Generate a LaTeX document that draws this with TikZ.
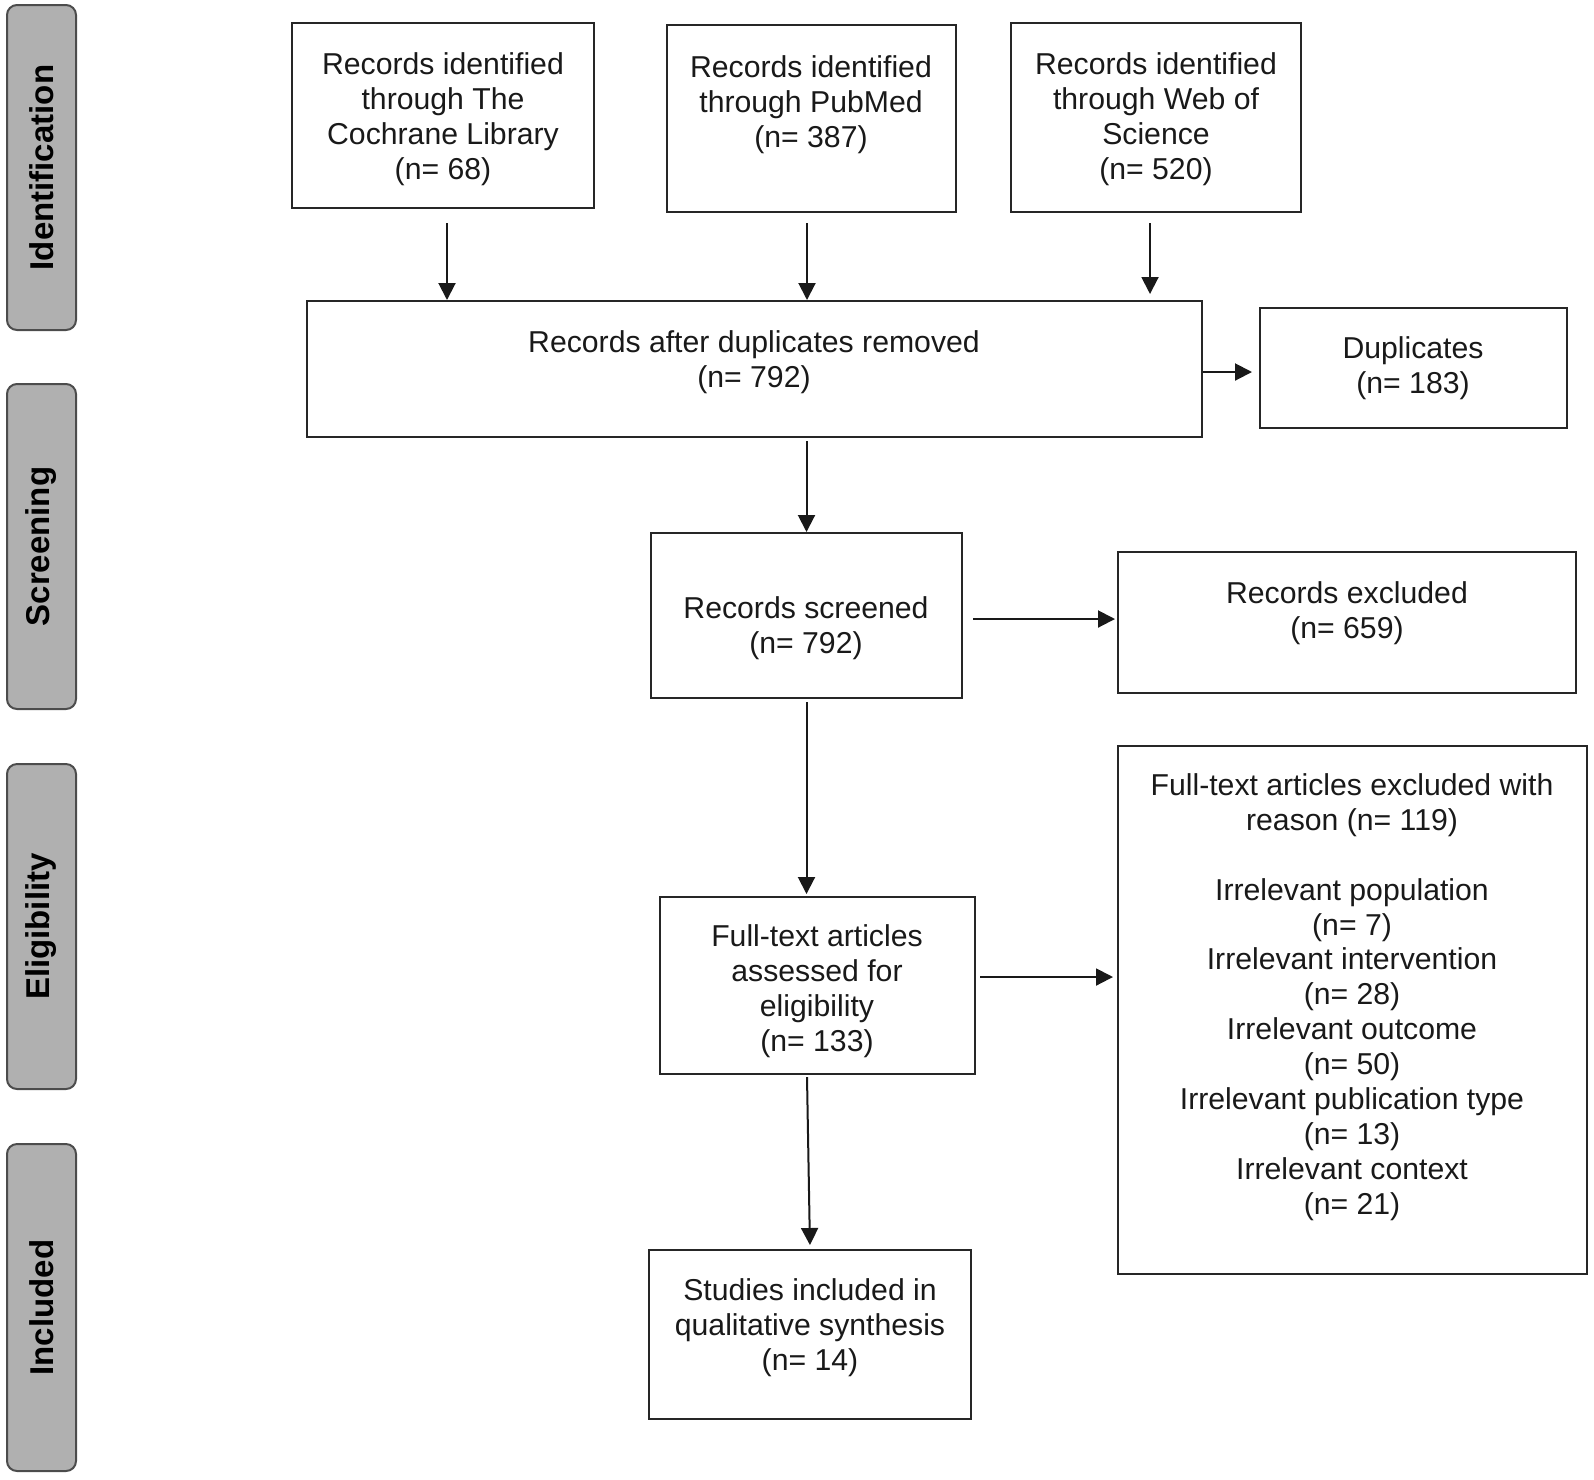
\documentclass[tikz,border=0pt]{standalone}
\usepackage{fontspec}
\setmainfont{Liberation Sans}
\usetikzlibrary{fit,arrows.meta,calc}
\begin{document}
\begin{tikzpicture}[x=0.5pt,y=-0.5pt,
  box/.style={draw=black!85,line width=1pt,inner sep=0pt,rectangle},
  bar/.style={draw=black!70,fill=black!31,line width=1pt,inner sep=0pt,rounded corners=5pt},
  txt/.style={align=center,font=\fontsize{15.1}{17.45}\selectfont,text=black!90,inner sep=0pt},
  side/.style={rotate=90,font=\fontsize{16.5}{18}\selectfont\bfseries,text=black,inner sep=0pt},
  arr/.style={line width=1pt,draw=black!90,-{Triangle[length=8.5pt,width=8.5pt]}}]
\useasboundingbox (0,0) rectangle (1594,1479);
% side bars
\node[bar,fit={(7,5) (76,330)}] (b1) {};
\node[bar,fit={(7,384) (76,709)}] (b2) {};
\node[bar,fit={(7,764) (76,1089)}] (b3) {};
\node[bar,fit={(7,1144) (76,1471)}] (b4) {};
\node[side] (l1) at (b1) {Identification};
\node[side] (l2) at (b2) {Screening};
\node[side] (l3) at (b3) {Eligibility};
\node[side] (l4) at (b4) {Included};
% boxes
\node[box,fit={(292,23) (594,208)}] (c1) {};
\node[box,fit={(667,25) (956,212)}] (c2) {};
\node[box,fit={(1011,23) (1301,212)}] (c3) {};
\node[box,fit={(307,301) (1202,437)}] (dd) {};
\node[box,fit={(1260,308) (1567,428)}] (dp) {};
\node[box,fit={(651,533) (962,698)}] (sc) {};
\node[box,fit={(1118,552) (1576,693)}] (ex) {};
\node[box,fit={(660,897) (975,1074)}] (ft) {};
\node[box,fit={(1118,746) (1587,1274)}] (rs) {};
\node[box,fit={(649,1250) (971,1419)}] (st) {};
% texts
\node[txt] (t1) at (443,119) {Records identified\\through The\\Cochrane Library\\(n= 68)};
\node[txt] (t2) at (811,105) {Records identified\\through PubMed\\(n= 387)};
\node[txt] (t3) at (1156,119) {Records identified\\through Web of\\Science\\(n= 520)};
\node[txt] (t4) at (754,362) {Records after duplicates removed\\(n= 792)};
\node[txt] (t5) at (1413,368) {Duplicates\\(n= 183)};
\node[txt] (t6) at (806,628) {Records screened\\(n= 792)};
\node[txt] (t7) at (1347,613) {Records excluded\\(n= 659)};
\node[txt] (t8) at (817,991) {Full-text articles\\assessed for\\eligibility\\(n= 133)};
\node[txt] (t9) at (1352,997) {Full-text articles excluded with\\reason (n= 119)\\[17.45pt]Irrelevant population\\(n= 7)\\Irrelevant intervention\\(n= 28)\\Irrelevant outcome\\(n= 50)\\Irrelevant publication type\\(n= 13)\\Irrelevant context\\(n= 21)};
\node[txt] (t10) at (810,1328) {Studies included in\\qualitative synthesis\\(n= 14)};
% connectors
\draw[arr] ([xshift=2pt,yshift=-7pt]c1.south) -- ([xshift=2pt]c1.south |- dd.north);
\draw[arr] ([xshift=-2.25pt,yshift=-5pt]c2.south) -- ([xshift=-2.25pt]c2.south |- dd.north);
\draw[arr] ([xshift=-3pt,yshift=-5pt]c3.south) -- ([xshift=-3pt,yshift=3pt]c3.south |- dd.north);
\draw[arr,shorten >=3.5pt] ([yshift=-1.5pt]dd.east) -- ([yshift=-1.5pt]dd.east -| dp.west);
\draw[arr] ([yshift=-1.5pt]sc.north |- dd.south) -- (sc.north);
\draw[arr,shorten >=1pt] ([xshift=5pt,yshift=-1.75pt]sc.east) -- ([yshift=-1.75pt]sc.east -| ex.west);
\draw[arr,shorten >=1pt] ([yshift=-1.5pt]sc.south) -- (sc.south |- ft.north);
\draw[arr,shorten >=2pt] ([xshift=2pt,yshift=4.25pt]ft.east) -- ([yshift=4.25pt]ft.east -| rs.west);
\draw[arr,shorten >=2pt] ([xshift=-5.25pt,yshift=-1pt]ft.south) -- (st.north);
\end{tikzpicture}
\end{document}
